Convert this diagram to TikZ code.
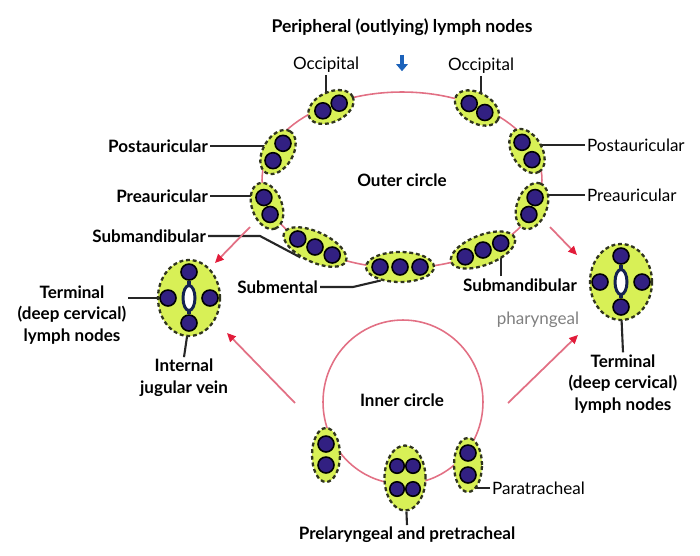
\documentclass[tikz,border=0pt]{standalone}
\usepackage{fontspec}
\setmainfont{Lato}
\usetikzlibrary{
    shapes.geometric,
    arrows.meta,
    backgrounds,
    calc
}
\definecolor{Lime}{RGB}{216, 240, 86}
\definecolor{Ldash}{RGB}{48, 52, 30}
\definecolor{Ndot}{RGB}{50, 32, 130}
\definecolor{Ring}{RGB}{226, 112, 132}
\definecolor{Rtip}{RGB}{226, 28, 58}
\definecolor{Vein}{RGB}{20, 34, 80}
\definecolor{Bdown}{RGB}{28, 98, 186}
\tikzset{
    grp/.style={
        ellipse, draw=Ldash, fill=Lime, line width=1.3pt,
        dash pattern=on 2.2pt off 1.6pt, inner sep=0pt,
        minimum width=0.96cm, minimum height=0.6cm
    },
    grpthree/.style={grp, minimum width=1.36cm, minimum height=0.6cm},
    ndot/.style={
        circle, draw=black, fill=Ndot, line width=0.9pt,
        inner sep=0pt, minimum size=0.32cm
    },
    ring/.style={ellipse, draw=Ring, line width=0.9pt, inner sep=0pt},
    lead/.style={draw=black!85, line width=1.2pt},
    lbl/.style={font=\fontsize{9.7}{12.4}\selectfont\bfseries, inner sep=1pt, align=center},
    lblr/.style={font=\fontsize{9.7}{12.4}\selectfont, inner sep=1pt, align=center},
    rarr/.style={draw=Ring, line width=1pt, -{Triangle[length=5pt, width=4.5pt, color=Rtip]}},
    barr/.style={draw=Bdown, line width=2.4pt, -{Triangle[length=4pt, width=6.5pt]}},
}

\begin{document}
\begin{tikzpicture}[x=0.02cm, y=-0.02cm]
    \useasboundingbox (0,0) rectangle (700,555);

    % ── the two rings ────────────────────────────────
    \node [ring, minimum width=5.6cm, minimum height=3.52cm] (outer) at (402,180) {};
    \node [ring, minimum width=3.2cm, minimum height=3.28cm] (inner) at (403,402) {};
    \node [lbl] (touter) at (402,180) {Outer circle};
    \node [lbl] (tinner) at (402,400) {Inner circle};

    \node [lbl, font=\fontsize{10}{12}\selectfont\bfseries] (title) at (402,27)
        {Peripheral (outlying) lymph nodes};

    % ── outer circle groups ──────────────────────────
    \begin{scope}[shift={(331,107)}, rotate=25]
        \node [grp, rotate=25] (occL) {};
        \foreach \i/\d in {1/-9, 2/9} \node [ndot] (occL\i) at (\d,0) {};
    \end{scope}
    \begin{scope}[shift={(477,108)}, rotate=-30]
        \node [grp, rotate=-30] (occR) {};
        \foreach \i/\d in {1/-9, 2/9} \node [ndot] (occR\i) at (\d,0) {};
    \end{scope}
    \begin{scope}[shift={(278,152)}, rotate=60]
        \node [grp, rotate=60] (postL) {};
        \foreach \i/\d in {1/10, 2/-10} \node [ndot] (postL\i) at (\d,0) {};
    \end{scope}
    \begin{scope}[shift={(267,206)}, rotate=-70]
        \node [grp, rotate=-70] (preL) {};
        \foreach \i/\d in {1/-9, 2/9} \node [ndot] (preL\i) at (\d,0) {};
    \end{scope}
    \begin{scope}[shift={(315,247)}, rotate=-25]
        \node [grpthree, rotate=-25] (submL) {};
        \foreach \i/\d in {1/-19, 2/0, 3/19} \node [ndot] (submL\i) at (\d,0) {};
    \end{scope}
    \begin{scope}[shift={(400,267)}]
        \node [grpthree] (sment) {};
        \foreach \i/\d in {1/-20, 2/0, 3/20} \node [ndot] (sment\i) at (\d,0) {};
    \end{scope}
    \begin{scope}[shift={(483,250)}, rotate=21]
        \node [grpthree, rotate=21] (submR) {};
        \foreach \i/\d in {1/-19, 2/0, 3/19} \node [ndot] (submR\i) at (\d,0) {};
    \end{scope}
    \begin{scope}[shift={(532,206)}, rotate=70]
        \node [grp, rotate=70] (preR) {};
        \foreach \i/\d in {1/9, 2/-9} \node [ndot] (preR\i) at (\d,0) {};
    \end{scope}
    \begin{scope}[shift={(527,151)}, rotate=-60]
        \node [grp, rotate=-60] (postR) {};
        \foreach \i/\d in {1/-10, 2/10} \node [ndot] (postR\i) at (\d,0) {};
    \end{scope}

    % ── inner circle groups ──────────────────────────
    \begin{scope}[shift={(326,455)}]
        \node [grp, minimum width=0.56cm, minimum height=1.08cm] (retro) {};
        \foreach \i/\d in {1/-11, 2/10} \node [ndot] (retro\i) at (0,\d) {};
    \end{scope}
    \begin{scope}[shift={(468,465)}]
        \node [grp, minimum width=0.56cm, minimum height=1.08cm] (paraR) {};
        \foreach \i/\d in {1/-12, 2/10} \node [ndot] (paraR\i) at (0,\d) {};
    \end{scope}
    \begin{scope}[shift={(405,478)}]
        \node [grp, minimum width=0.82cm, minimum height=1.3cm] (prel) {};
        \foreach \i/\p in {1/{-8,-12}, 2/{8,-12}, 3/{-8,11}, 4/{8,11}}
            \node [ndot, minimum size=0.29cm] (prel\i) at (\p) {};
    \end{scope}

    % ── terminal (deep cervical) groups ──────────────
    \foreach \t/\x/\y in {termL/189/298, termR/621/282} {
        \begin{scope}[shift={(\x,\y)}]
            \node [grp, minimum width=1.24cm, minimum height=1.52cm] (\t) {};
            \node [ndot] (\t t) at (0,-26) {};
            \node [ndot] (\t l) at (-21,0) {};
            \node [ndot] (\t r) at (21,0) {};
            \node [ndot] (\t b) at (0,25) {};
            \draw [Vein, line width=2.6pt] (\t t) -- (\t b);
            \node [ellipse, draw=Vein, fill=white, line width=1.7pt, inner sep=0pt,
                   minimum width=0.24cm, minimum height=0.5cm] (\t v) {};
        \end{scope}
    }

    % ── labels ───────────────────────────────────────
    \node [lblr] (loccL) at (326,65) {Occipital};
    \node [lblr] (loccR) at (481,66) {Occipital};
    \node [lbl, anchor=east] (lpostL) at (210,146) {Postauricular};
    \node [lbl, anchor=east] (lpreL) at (210,196) {Preauricular};
    \node [lbl, anchor=east] (lsubmL) at (208,236) {Submandibular};
    \node [lbl, anchor=east] (lsment) at (320,287) {Submental};
    \node [lbl] (lsubmR) at (520,285) {Submandibular};
    \node [lblr, anchor=west] (lpostR) at (585,145) {Postauricular};
    \node [lblr, anchor=west] (lpreR) at (585,195) {Preauricular};
    \node [lblr, text=black!50] (lphar) at (538,320) {pharyngeal};
    \node [lbl] (ltermL) at (72,315) {Terminal\\(deep cervical)\\lymph nodes};
    \node [lbl] (ljug) at (184,378) {Internal\\jugular vein};
    \node [lbl] (ltermR) at (623,384) {Terminal\\(deep cervical)\\lymph nodes};
    \node [lblr, anchor=west] (lpara) at (490,488) {Paratracheal};
    \node [lbl] (lprel) at (407,535) {Prelaryngeal and pretracheal};

    % ── leader lines ─────────────────────────────────
    \begin{scope}[on background layer]
        \draw [lead] (loccL.south) -- (loccL.south |- occL1);
        \draw [lead] (loccR.south) -- (loccR.south |- occR1);
        \draw [lead] (lpostL.east) -- (lpostL.east -| postL1);
        \draw [lead] (lpreL.east) -- (lpreL.east -| preL1);
        \draw [lead] (lsubmL.east) -- ++(52,0) -- (submL.240);
        \draw [lead] (lsment.east) -- ++(33,0) -- (sment.215);
        \draw [lead] (lsubmR.north -| submR3) -- (submR3);
        \draw [lead] (lpostR.west) -- (lpostR.west -| postR1);
        \draw [lead] (lpreR.west) -- (lpreR.west -| preR1);
        \draw [lead] (ltermL.east |- termLl) -- (termLl);
        \draw [lead] (termLb) -- (ljug.north);
        \draw [lead] (termRb) -- (ltermR.north);
        \draw [lead] (lpara.west) -- (lpara.west -| paraR2);
        \draw [lead] (lprel.north) -- (prel);
    \end{scope}

    % ── drainage arrows ──────────────────────────────
    \draw [barr, shorten <=0.34cm, shorten >=0.4cm] (title) -- (outer);

    \coordinate (aLa) at (250,227);
    \coordinate (aLb) at (215,263);
    \coordinate (aLc) at (295,403);
    \coordinate (aLd) at (227,333);
    \coordinate (aRa) at (550,227);
    \coordinate (aRb) at (577,255);
    \coordinate (aRc) at (508,403);
    \coordinate (aRd) at (578,335);
    \draw [rarr] (aLa) -- (aLb);
    \draw [rarr] (aLc) -- (aLd);
    \draw [rarr] (aRa) -- (aRb);
    \draw [rarr] (aRc) -- (aRd);

\end{tikzpicture}
\end{document}
